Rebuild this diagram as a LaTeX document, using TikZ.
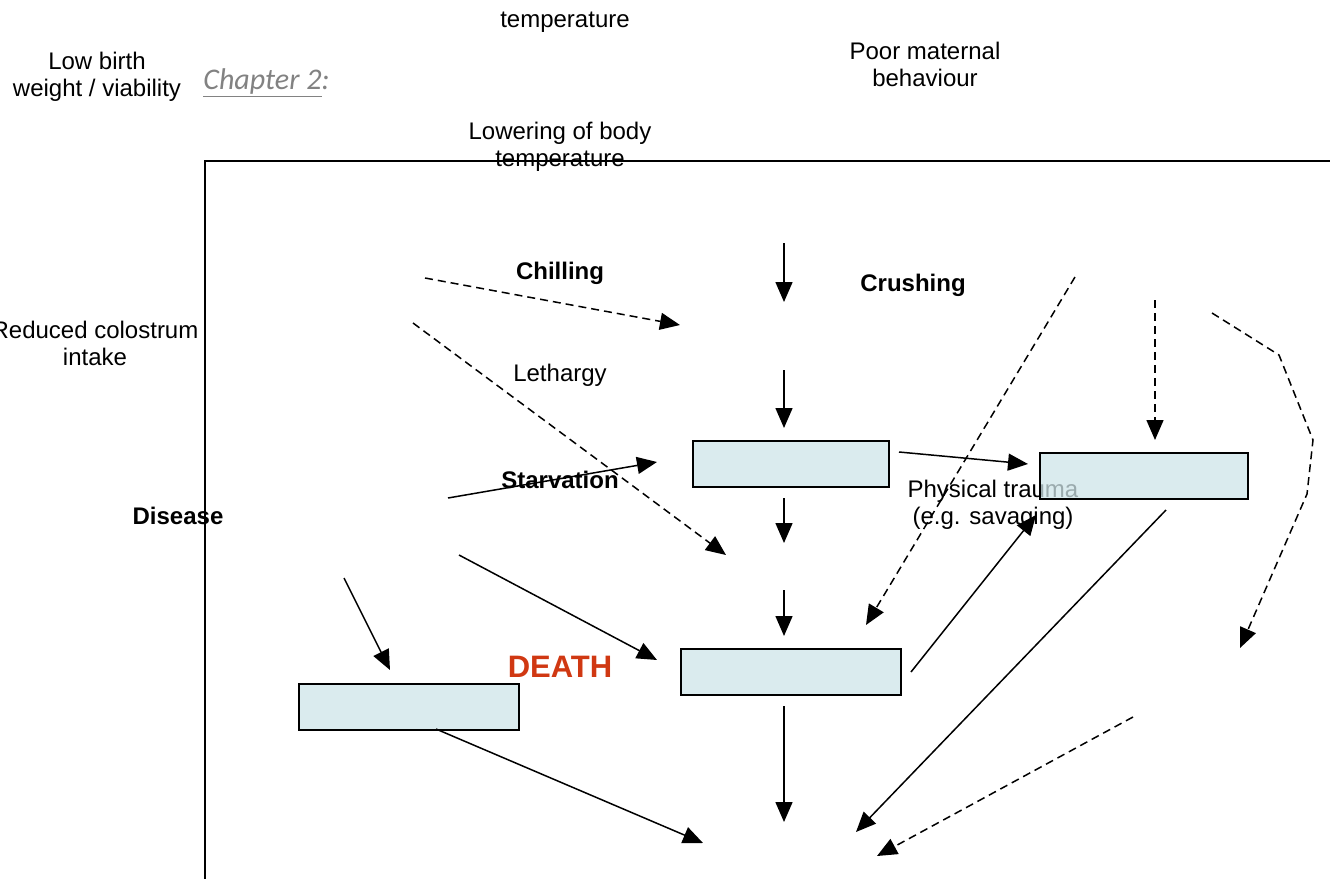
\documentclass[tikz,border=0pt]{standalone}
\usepackage{fontspec}
\setmainfont{Liberation Sans}
\newfontfamily\chapfont{Carlito}
\usetikzlibrary{arrows.meta}
\definecolor{boxblue}{RGB}{206,228,232}
\definecolor{deathred}{RGB}{208,56,18}
\definecolor{chapgray}{RGB}{130,130,130}

\begin{document}
\begin{tikzpicture}[x=0.5pt, y=-0.5pt, font=\fontsize{12}{13.5}\selectfont]
\tikzstyle{box} = [rectangle, draw, line width=0.75pt, fill=boxblue, fill opacity=0.75, text opacity=1, anchor=north west, inner sep=0pt, minimum height=23pt]
\tikzstyle{label} = [align=center, inner sep=0pt]
\tikzstyle{cause} = [label, font=\fontsize{12}{13.5}\selectfont\bfseries]
\tikzstyle{line} = [draw, line width=0.75pt, -{Triangle[length=10pt,width=8.5pt]}]
\tikzstyle{dline} = [line, dash pattern=on 4pt off 2.5pt]

\useasboundingbox (0,0) rectangle (1330,879);

\draw [line width=0.75pt] (205,879) -- (205,161) -- (1330,161);

\node [label] (temp) at (565,22) {temperature};
\node [label] (lowbw) at (97,77) {Low birth\\weight / viability};
\node [label, anchor=west, font=\fontsize{15}{16}\chapfont\itshape, text=chapgray] (chap) at (203,83) {\underline{Chapter 2}:};
\node [label] (poormat) at (925,64) {Poor maternal\\behaviour};
\node [label] (lowtemp) at (560,147) {Lowering of body\\temperature};
\node [cause] (chill) at (560,273) {Chilling};
\node [cause] (crush) at (913,285) {Crushing};
\node [label] (colos) at (95,343) {Reduced colostrum\\intake};
\node [label] (leth) at (560,375) {Lethargy};
\node [cause] (starv) at (560,480) {Starvation};
\node [cause] (dis) at (178,516) {Disease};
\node [label] (trauma) at (993,505) {Physical trauma\\(e.g. savaging)};
\node [cause, text=deathred, font=\fontsize{15.5}{17}\selectfont\bfseries] (death) at (560,667) {DEATH};

\node [box, minimum width=98pt] (hypoBox) at (692,440) {};
\node [box, minimum width=104pt] (traumaBox) at (1039,452) {};
\node [box, minimum width=110pt] (deathBox) at (680,648) {};
\node [box, minimum width=110pt] (disBox) at (298,683) {};

\coordinate (v1a) at (784,243); \coordinate (v1b) at (784,302);
\coordinate (v2a) at (784,370); \coordinate (v2b) at (784,428);
\coordinate (v3a) at (784,498); \coordinate (v3b) at (784,543);
\coordinate (v4a) at (784,590); \coordinate (v4b) at (784,636);
\coordinate (v5a) at (784,706); \coordinate (v5b) at (784,822);
\coordinate (starvA) at (448,498); \coordinate (starvB) at (657,462);
\coordinate (hypoA) at (899,452); \coordinate (hypoB) at (1028,464);
\coordinate (disA) at (459,555); \coordinate (disB) at (657,660);
\coordinate (disC) at (344,578); \coordinate (disD) at (390,670);
\coordinate (trA) at (911,672); \coordinate (trB) at (1036,515);
\coordinate (trC) at (1166,510); \coordinate (trD) at (856,832);
\coordinate (disE) at (436,729); \coordinate (disF) at (703,843);
\coordinate (chA) at (425,278); \coordinate (chB) at (680,325);
\coordinate (coA) at (413,323); \coordinate (coB) at (726,555);
\coordinate (crA) at (1075,277); \coordinate (crB) at (866,625);
\coordinate (crC) at (1155,300); \coordinate (crD) at (1155,440);
\coordinate (pmA) at (1212,313); \coordinate (pmB) at (1240,648);
\coordinate (lbA) at (1133,717); \coordinate (lbB) at (877,856);

\draw [line] (v1a) -- (v1b);
\draw [line] (v2a) -- (v2b);
\draw [line] (v3a) -- (v3b);
\draw [line] (v4a) -- (v4b);
\draw [line] (v5a) -- (v5b);
\draw [line] (starvA) -- (starvB);
\draw [line] (hypoA) -- (hypoB);
\draw [line] (disA) -- (disB);
\draw [line] (disC) -- (disD);
\draw [line] (trA) -- (trB);
\draw [line] (trC) -- (trD);
\draw [line] (disE) -- (disF);

\draw [dline] (chA) -- (chB);
\draw [dline] (coA) -- (coB);
\draw [dline] (crA) -- (crB);
\draw [dline] (crC) -- (crD);
\draw [dline] (pmA) -- (1279,355) -- (1313,440) -- (1307,494) -- (pmB);
\draw [dline] (lbA) -- (lbB);

\end{tikzpicture}
\end{document}
